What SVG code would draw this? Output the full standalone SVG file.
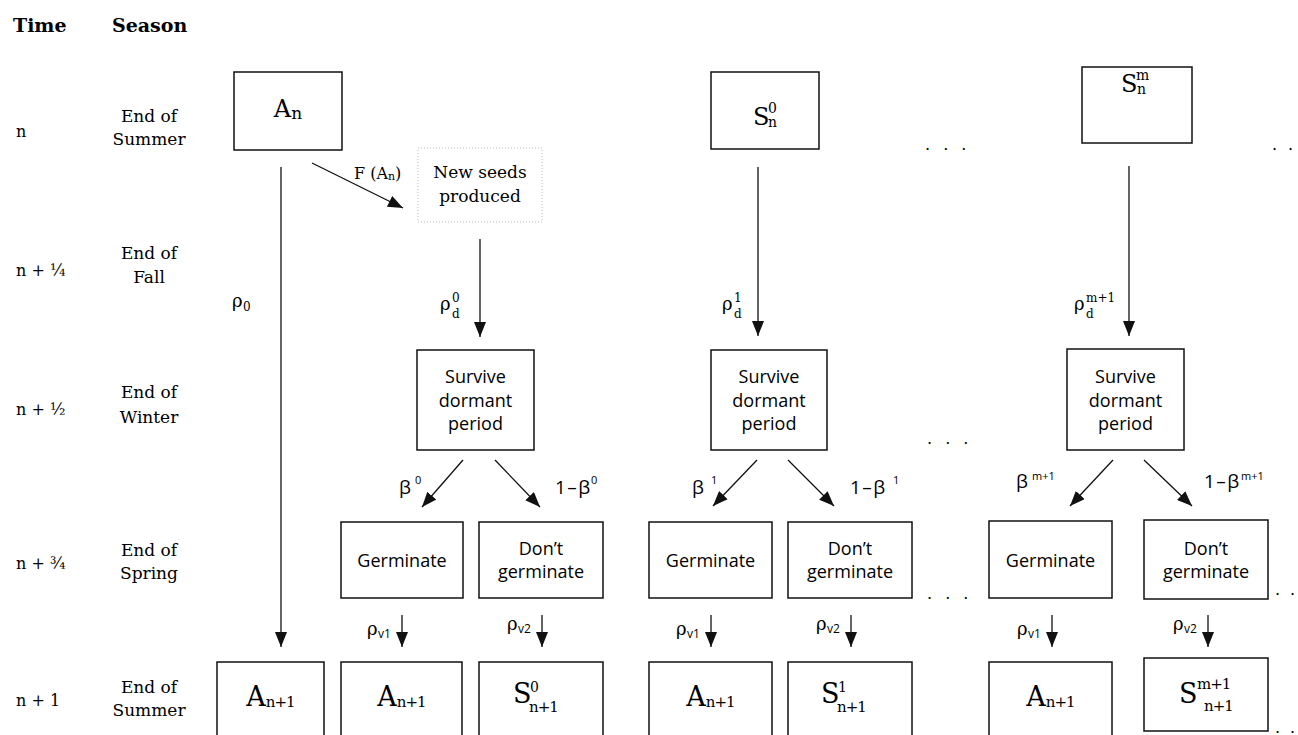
<svg xmlns="http://www.w3.org/2000/svg" width="1298" height="735" viewBox="0 0 1298 735">
<style>
text{fill:#000}
.hd{font-family:"DejaVu Serif",serif;font-weight:bold;font-size:19px}
.tm{font-family:"DejaVu Serif",serif;font-size:16px}
.ss{font-family:"DejaVu Serif",serif;font-size:17px;text-anchor:middle}
.box{fill:#fff;stroke:#111;stroke-width:1.5}
.dbox{fill:none;stroke:#aaa;stroke-width:0.8;stroke-dasharray:1 2}
.bt{font-family:"Open Sans",sans-serif;font-size:18px;text-anchor:middle}
.sf{font-family:"DejaVu Serif",serif;font-size:16px}
.big{font-family:"DejaVu Serif",serif;font-size:24px}
.bigb{font-family:"DejaVu Serif",serif;font-size:27px}
.sm{font-family:"DejaVu Serif",serif;font-size:14px}
.smb{font-family:"DejaVu Serif",serif;font-size:15px;letter-spacing:-1px}
.rho{font-family:"DejaVu Serif",serif;font-size:18px}
.rs{font-family:"DejaVu Serif",serif;font-size:12px}
.vs{font-family:"Open Sans",sans-serif;font-size:12px}
.be{font-family:"Open Sans",sans-serif;font-size:19px}
.bs{font-family:"Open Sans",sans-serif;font-size:11px}
.dots{font-family:"DejaVu Serif",serif;font-size:16px;letter-spacing:4px}
.dot{font-family:"DejaVu Serif",serif;font-size:16px}
.ln{stroke:#111;stroke-width:1.3;fill:none;marker-end:url(#ah)}
</style>
<defs>
<marker id="ah" viewBox="0 0 15 12" refX="15" refY="6" markerWidth="15" markerHeight="12" markerUnits="userSpaceOnUse" orient="auto"><path d="M0,0 L15,6 L0,12 z" fill="#111"/></marker>
</defs>
<rect width="1298" height="735" fill="#fff"/>

<g id="headers">
<text class="hd" x="13" y="32">Time</text>
<text class="hd" x="112" y="32">Season</text>
</g>
<g id="time-labels">
<text class="tm" x="16" y="137">n</text>
<text class="tm" x="16" y="276">n + ¼</text>
<text class="tm" x="16" y="415">n + ½</text>
<text class="tm" x="16" y="569">n + ¾</text>
<text class="tm" x="16" y="706">n + 1</text>
</g>
<g id="season-labels">
<text class="ss" x="149" y="122">End of</text><text class="ss" x="149" y="145">Summer</text>
<text class="ss" x="149" y="259">End of</text><text class="ss" x="149" y="283">Fall</text>
<text class="ss" x="149" y="398">End of</text><text class="ss" x="149" y="423">Winter</text>
<text class="ss" x="149" y="556">End of</text><text class="ss" x="149" y="579">Spring</text>
<text class="ss" x="149" y="693">End of</text><text class="ss" x="149" y="716">Summer</text>
</g>

<g id="connectors">
<line class="ln" x1="281" y1="167" x2="281" y2="647"/>
<line class="ln" x1="312" y1="163" x2="403" y2="208"/>
<line class="ln" x1="480" y1="239" x2="480" y2="337"/>
<line class="ln" x1="758" y1="167" x2="758" y2="336"/>
<line class="ln" x1="1129" y1="166" x2="1129" y2="336"/>
<line class="ln" x1="463" y1="460" x2="422" y2="507"/>
<line class="ln" x1="495" y1="460" x2="540" y2="507"/>
<line class="ln" x1="757" y1="460" x2="713" y2="506"/>
<line class="ln" x1="788" y1="460" x2="834" y2="506"/>
<line class="ln" x1="1113" y1="460" x2="1070" y2="506"/>
<line class="ln" x1="1144" y1="460" x2="1192" y2="506"/>
<line class="ln" x1="402" y1="615" x2="402" y2="647"/>
<line class="ln" x1="542" y1="615" x2="542" y2="647"/>
<line class="ln" x1="711" y1="615" x2="711" y2="647"/>
<line class="ln" x1="851" y1="615" x2="851" y2="647"/>
<line class="ln" x1="1052" y1="615" x2="1052" y2="647"/>
<line class="ln" x1="1208" y1="615" x2="1208" y2="647"/>
</g>

<g id="connector-labels">
<text class="sf" x="354" y="179">F (A<tspan font-size="11" dy="1">n</tspan><tspan dy="-1">)</tspan></text>
<text class="rho" x="232" y="307">ρ</text><text class="rs" x="243" y="311">0</text>
<text class="rho" x="440" y="310">ρ</text><text class="rs" x="452" y="302">0</text><text class="rs" x="452" y="318">d</text>
<text class="rho" x="722" y="310">ρ</text><text class="rs" x="734" y="302">1</text><text class="rs" x="734" y="318">d</text>
<text class="rho" x="1074" y="310">ρ</text><text class="rs" x="1086" y="302">m+1</text><text class="rs" x="1086" y="318">d</text>
<text class="be" x="399" y="494">β</text><text class="bs" x="415" y="484">0</text>
<text class="be" x="555" y="494" letter-spacing="1.5">1–β</text><text class="bs" x="591" y="484">0</text>
<text class="be" x="692" y="494">β</text><text class="bs" x="711" y="484">1</text>
<text class="be" x="850" y="494" letter-spacing="1.5">1–β</text><text class="bs" x="893" y="484">1</text>
<text class="be" x="1016" y="488">β</text><text class="bs" x="1032" y="480">m+1</text>
<text class="be" x="1204" y="488" letter-spacing="1.5">1–β</text><text class="bs" x="1241" y="480">m+1</text>
<text class="rho" x="367" y="635">ρ</text><text class="vs" x="378" y="638">v1</text>
<text class="rho" x="507" y="630">ρ</text><text class="vs" x="518" y="633">v2</text>
<text class="rho" x="676" y="635">ρ</text><text class="vs" x="687" y="638">v1</text>
<text class="rho" x="816" y="630">ρ</text><text class="vs" x="827" y="633">v2</text>
<text class="rho" x="1017" y="635">ρ</text><text class="vs" x="1028" y="638">v1</text>
<text class="rho" x="1173" y="630">ρ</text><text class="vs" x="1184" y="633">v2</text>
</g>

<g id="node-An">
<rect class="box" x="234" y="72" width="108" height="78"/>
<text class="big" x="288" y="117" text-anchor="middle">A<tspan font-size="17" dy="2">n</tspan></text>
</g>
<g id="node-new-seeds">
<rect class="dbox" x="418" y="148" width="124" height="74"/>
<text class="ss" x="480" y="178">New seeds</text>
<text class="ss" x="480" y="202">produced</text>
</g>
<g id="node-S0n">
<rect class="box" x="711" y="72" width="108" height="77"/>
<text class="big" x="753" y="125">S</text><text class="sm" x="768" y="113">0</text><text class="sm" x="768" y="127">n</text>
</g>
<g id="node-Smn">
<rect class="box" x="1082" y="67" width="110" height="76"/>
<text class="big" x="1121" y="92">S</text><text class="sm" x="1136" y="80">m</text><text class="sm" x="1137" y="94">n</text>
</g>

<g id="node-survive-0">
<rect class="box" x="417" y="350" width="117" height="100"/>
<text class="bt" x="475.5" y="383">Survive</text><text class="bt" x="475.5" y="407">dormant</text><text class="bt" x="475.5" y="430">period</text>
</g>
<g id="node-survive-1">
<rect class="box" x="711" y="350" width="116" height="100"/>
<text class="bt" x="769" y="383">Survive</text><text class="bt" x="769" y="407">dormant</text><text class="bt" x="769" y="430">period</text>
</g>
<g id="node-survive-m1">
<rect class="box" x="1067" y="349" width="117" height="101"/>
<text class="bt" x="1125.5" y="383">Survive</text><text class="bt" x="1125.5" y="407">dormant</text><text class="bt" x="1125.5" y="430">period</text>
</g>

<g id="node-germ-0">
<rect class="box" x="341" y="522" width="122" height="76"/>
<text class="bt" x="402" y="567">Germinate</text>
</g>
<g id="node-dont-0">
<rect class="box" x="479" y="522" width="124" height="76"/>
<text class="bt" x="541" y="555">Don’t</text><text class="bt" x="541" y="578">germinate</text>
</g>
<g id="node-germ-1">
<rect class="box" x="649" y="522" width="123" height="76"/>
<text class="bt" x="710.5" y="567">Germinate</text>
</g>
<g id="node-dont-1">
<rect class="box" x="788" y="522" width="124" height="76"/>
<text class="bt" x="850" y="555">Don’t</text><text class="bt" x="850" y="578">germinate</text>
</g>
<g id="node-germ-m1">
<rect class="box" x="989" y="521" width="123" height="77"/>
<text class="bt" x="1050.5" y="567">Germinate</text>
</g>
<g id="node-dont-m1">
<rect class="box" x="1144" y="520" width="124" height="79"/>
<text class="bt" x="1206" y="555">Don’t</text><text class="bt" x="1206" y="578">germinate</text>
</g>

<g id="node-A1-0">
<rect class="box" x="217" y="662" width="107" height="90"/>
<text class="bigb" x="270.5" y="706" text-anchor="middle">A<tspan font-size="15" letter-spacing="-1" dy="1">n+1</tspan></text>
</g>
<g id="node-A1-1">
<rect class="box" x="341" y="662" width="121" height="90"/>
<text class="bigb" x="401.5" y="706" text-anchor="middle">A<tspan font-size="15" letter-spacing="-1" dy="1">n+1</tspan></text>
</g>
<g id="node-S0-n1">
<rect class="box" x="479" y="662" width="124" height="90"/>
<text class="bigb" x="513" y="703">S</text><text class="sm" x="530" y="692">0</text><text class="smb" x="529" y="712">n+1</text>
</g>
<g id="node-A1-2">
<rect class="box" x="649" y="662" width="123" height="90"/>
<text class="bigb" x="710.5" y="706" text-anchor="middle">A<tspan font-size="15" letter-spacing="-1" dy="1">n+1</tspan></text>
</g>
<g id="node-S1-n1">
<rect class="box" x="788" y="662" width="124" height="90"/>
<text class="bigb" x="821" y="703">S</text><text class="sm" x="838" y="692">1</text><text class="smb" x="837" y="712">n+1</text>
</g>
<g id="node-A1-3">
<rect class="box" x="989" y="662" width="123" height="90"/>
<text class="bigb" x="1050.5" y="706" text-anchor="middle">A<tspan font-size="15" letter-spacing="-1" dy="1">n+1</tspan></text>
</g>
<g id="node-Sm1-n1">
<rect class="box" x="1144" y="658" width="124" height="73"/>
<text class="bigb" x="1179" y="703">S</text><text class="smb" x="1197" y="689">m+1</text><text class="smb" x="1204" y="711">n+1</text>
</g>

<g id="ellipses">
<text class="dots" x="925" y="150">. . .</text>
<text class="dot" x="1272" y="150">.</text><text class="dot" x="1288" y="150">.</text>
<text class="dots" x="927" y="444">. . .</text>
<text class="dots" x="927" y="599">. . .</text>
<text class="dot" x="1275" y="595">.</text><text class="dot" x="1290" y="595">.</text>
<text class="dot" x="1275" y="733">.</text><text class="dot" x="1290" y="733">.</text>
</g>
</svg>
